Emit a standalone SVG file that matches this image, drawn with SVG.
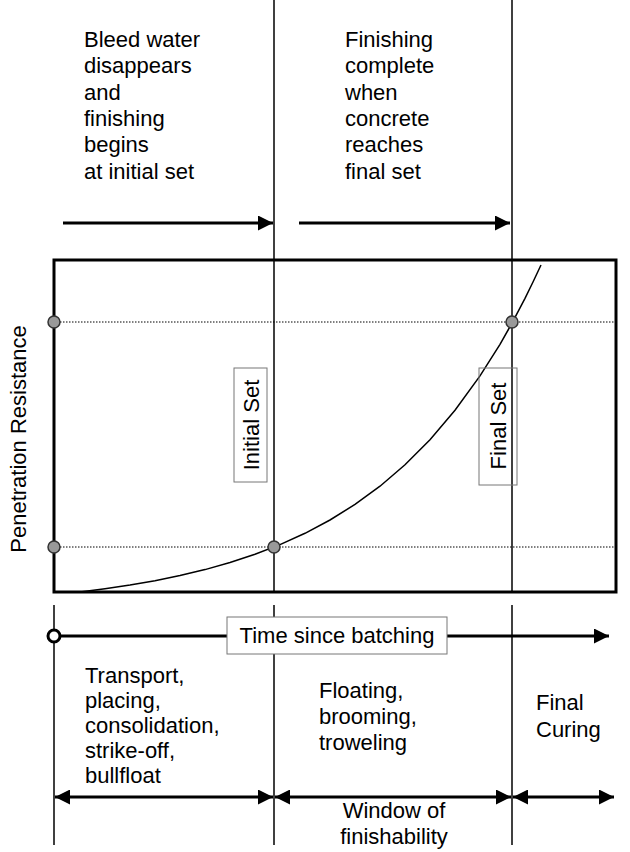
<svg xmlns="http://www.w3.org/2000/svg" width="630" height="852" viewBox="0 0 630 852">
<style>
text{font-family:"Liberation Sans",Arial,sans-serif;font-size:22px;fill:#000}
.vl{stroke:#000;stroke-width:1.5;fill:none}
.arr{stroke:#000;stroke-width:3;fill:none}
.dot{stroke:#000;stroke-width:1;stroke-dasharray:1.5 1.5;fill:none}
.pt{fill:#999;stroke:#333;stroke-width:1.5}
.lbl{fill:none;stroke:#777;stroke-width:1}
</style>
<defs>
<marker id="ah" viewBox="0 0 10 10" refX="10" refY="5" markerWidth="5" markerHeight="5" orient="auto" markerUnits="strokeWidth">
<path d="M0,0 L10,5 L0,10 Z" fill="#000"/>
</marker>
<marker id="as" viewBox="0 0 10 10" refX="0" refY="5" markerWidth="5" markerHeight="5" orient="auto" markerUnits="strokeWidth">
<path d="M10,0 L0,5 L10,10 Z" fill="#000"/>
</marker>
</defs>

<g id="frame">
<rect x="54" y="260" width="562" height="332" fill="none" stroke="#000" stroke-width="3"/>
</g>

<g id="connectors">
<line class="vl" x1="274" y1="0" x2="274" y2="592"/>
<line class="vl" x1="512" y1="0" x2="512" y2="592"/>
<line class="vl" x1="54" y1="605" x2="54" y2="845"/>
<line class="vl" x1="274" y1="605" x2="274" y2="845"/>
<line class="vl" x1="512" y1="605" x2="512" y2="845"/>
<line class="dot" x1="54" y1="322" x2="616" y2="322"/>
<line class="dot" x1="54" y1="547" x2="616" y2="547"/>
<line class="arr" x1="63" y1="223" x2="273" y2="223" marker-end="url(#ah)"/>
<line class="arr" x1="299" y1="223" x2="510" y2="223" marker-end="url(#ah)"/>
<line class="arr" x1="60" y1="636" x2="609" y2="636" marker-end="url(#ah)"/>
<line class="arr" x1="55" y1="797" x2="273" y2="797" marker-start="url(#as)" marker-end="url(#ah)"/>
<line class="arr" x1="275" y1="797" x2="511" y2="797" marker-start="url(#as)" marker-end="url(#ah)"/>
<line class="arr" x1="513" y1="797" x2="614" y2="797" marker-start="url(#as)" marker-end="url(#ah)"/>
<polyline fill="none" stroke="#000" stroke-width="1.5" points="80,592 105,588.8 130,585.1 155,580.7 180,575.6 205,569.6 230,562.5 255,554.3 280,544.6 305,533.3 330,520 355,504.4 380,486.2 405,464.8 430,439.7 455,410.3 480,375.9 500,344.3 512,323.1 525,298.3 533,282 541,265"/>
</g>

<g id="points">
<circle class="pt" cx="54" cy="322" r="6"/>
<circle class="pt" cx="54" cy="547" r="6"/>
<circle class="pt" cx="274" cy="547" r="6"/>
<circle class="pt" cx="512" cy="322" r="6"/>
<circle cx="54" cy="636" r="6" fill="#fff" stroke="#000" stroke-width="3"/>
</g>

<g id="label-initial-set">
<rect class="lbl" x="234" y="368" width="33" height="114"/>
<text transform="translate(251,425) rotate(-90)" text-anchor="middle" dominant-baseline="central">Initial Set</text>
</g>

<g id="label-final-set">
<rect class="lbl" x="479" y="368" width="38" height="117"/>
<text transform="translate(498,426) rotate(-90)" text-anchor="middle" dominant-baseline="central">Final Set</text>
</g>

<g id="y-axis-label">
<text transform="translate(18,439) rotate(-90)" text-anchor="middle" dominant-baseline="central">Penetration Resistance</text>
</g>

<g id="time-label">
<rect x="227" y="617" width="220" height="37" fill="#fff" stroke="#777" stroke-width="1"/>
<text x="337" y="643" text-anchor="middle">Time since batching</text>
</g>

<g id="note-initial">
<text x="84" y="47">Bleed water</text>
<text x="84" y="73">disappears</text>
<text x="84" y="100">and</text>
<text x="84" y="126">finishing</text>
<text x="84" y="152">begins</text>
<text x="84" y="179">at initial set</text>
</g>

<g id="note-final">
<text x="345" y="47">Finishing</text>
<text x="345" y="73">complete</text>
<text x="345" y="100">when</text>
<text x="345" y="126">concrete</text>
<text x="345" y="152">reaches</text>
<text x="345" y="179">final set</text>
</g>

<g id="phase-1">
<text x="85" y="683">Transport,</text>
<text x="85" y="708">placing,</text>
<text x="85" y="733">consolidation,</text>
<text x="85" y="758">strike-off,</text>
<text x="85" y="783">bullfloat</text>
</g>

<g id="phase-2">
<text x="319" y="698">Floating,</text>
<text x="319" y="724">brooming,</text>
<text x="319" y="750">troweling</text>
</g>

<g id="phase-3">
<text x="536" y="710">Final</text>
<text x="536" y="737">Curing</text>
</g>

<g id="window-label">
<text x="394" y="818" text-anchor="middle">Window of</text>
<text x="394" y="844" text-anchor="middle">finishability</text>
</g>
</svg>
